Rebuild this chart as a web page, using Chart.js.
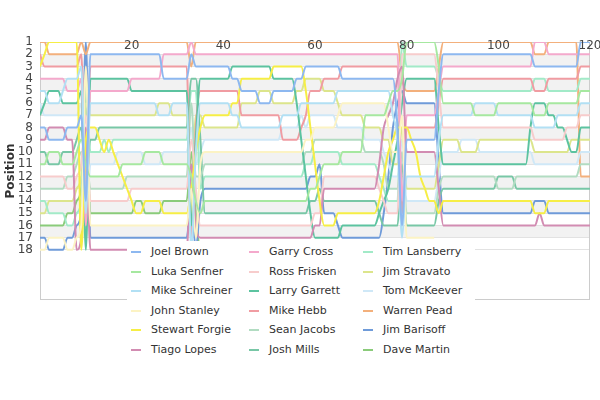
<!DOCTYPE html>
<html>
<head>
<meta charset="UTF-8">
<title>Lap chart</title>
<script src="https://cdn.jsdelivr.net/npm/chart.js@4.4.0/dist/chart.umd.min.js"></script>
<style>
  body { margin: 0; background: #fff; }
  #wrap { position: relative; width: 600px; height: 400px; }
  #legend { position: absolute; left: 127px; top: 241px; width: 348px; height: 127px; background: #fff; font: 11px "DejaVu Sans"; color: #333; }
  #legend .item { position: absolute; white-space: nowrap; line-height: 14px; }
  #legend .item i { display: inline-block; width: 10px; height: 2px; vertical-align: middle; margin-right: 10px; }
</style>
<script>
  const laps = [0,1,2,3,4,5,6,7,8,9,10,11,12,13,14,15,16,17,18,19,20,21,22,23,24,25,26,27,28,29,30,31,32,33,34,35,36,37,38,39,40,41,42,43,44,45,46,47,48,49,50,51,52,53,54,55,56,57,58,59,60,61,62,63,64,65,66,67,68,69,70,71,72,73,74,75,76,77,78,79,80,81,82,83,84,85,86,87,88,89,90,91,92,93,94,95,96,97,98,99,100,101,102,103,104,105,106,107,108,109,110,111,112,113,114,115,116,117,118,119,120];

  const drivers = ['Joel Brown', 'Luka Senfner', 'Mike Schreiner', 'John Stanley', 'Stewart Forgie', 'Tiago Lopes',
                   'Garry Cross', 'Ross Frisken', 'Larry Garrett', 'Mike Hebb', 'Sean Jacobs', 'Josh Mills',
                   'Tim Lansberry', 'Jim Stravato', 'Tom McKeever', 'Warren Pead', 'Jim Barisoff', 'Dave Martin'];

  const colours = ['#8db8f0', '#a6e8a0', '#b2e0f4', '#fcf3c4', '#f6ee45', '#d28cb2',
                   '#f4a9cc', '#f7cccc', '#5cc3a0', '#f09ca2', '#b2dcc2', '#78c7a6',
                   '#a2eac8', '#dce58c', '#cfe8f7', '#f3b07c', '#6f9bd9', '#8acb7a'];

  // position per lap, lap 0 .. 120 (null = out of the race)
  const joelBrown = [8,8,9,9,9,9,8,8,8,7, 14,2,2,2,2,2,2,2,2,2, 2,2,2,2,2,2,2,4,4,4, 4,4,4,2,3,3,3,3,3,3, 3,3,4,4,5,5,5,5,6,6, 6,5,5,5,5,5,4,4,3,3, 3,3,3,3,3,3,4,4,4,4, 4,4,4,4,4,4,4,4,8,16, 9,9,9,9,9,9,9,5,2,2, 2,2,2,2,2,2,2,2,2,2, 2,2,2,2,2,2,2,2,3,3, 3,3,3,3,3,3,3,3,1,1, 1];
  const lukaSenfner = [11,11,10,10,10,11,11,11,10,9, 11,12,12,12,12,12,12,12,11,11, 11,11,11,10,10,10,10,11,11,11, 11,11,11,12,14,15,14,14,14,14, 14,14,14,14,14,14,14,14,14,14, 14,14,14,14,14,14,14,14,14,13, 13,12,11,11,11,11,10,10,10,10, 10,7,7,7,7,7,6,5,5,4, 1,1,1,1,1,1,1,3,6,6, 6,6,6,6,6,7,7,7,7,7, 6,6,6,6,6,6,6,6,7,7, 7,6,6,6,6,6,6,6,5,5, 5];
  const mikeSchreiner = [5,5,6,6,6,5,4,4,4,3, 15,6,6,6,6,6,6,6,6,6, 6,6,6,6,6,6,7,7,7,6, 6,6,6,18,10,6,6,6,6,6, 6,6,7,7,8,8,8,8,8,8, 8,8,8,7,7,7,7,6,6,6, 6,6,6,6,6,5,5,5,5,5, 5,5,5,5,5,5,5,7,9,17, 12,12,12,12,12,12,12,9,7,7, 7,7,7,7,7,6,6,6,6,6, 7,7,7,7,7,7,7,7,8,8, 8,8,8,7,7,7,7,7,6,6, 6];
  const johnStanley = [18,18,17,17,17,17,18,18,17,16, 3,16,16,16,16,16,16,16,16,16, 16,16,16,16,16,16,16,16,16,16, 16,16,16,13,17,11,10,10,10,10, 10,10,10,10,10,10,10,10,10,10, 10,10,10,10,10,10,10,10,9,9, 8,8,8,8,8,7,6,6,6,6, 6,6,6,6,6,6,8,10,10,7, 17,17,17,17,17,17,17,null,null,null, null,null,null,null,null,null,null,null,null,null, null,null,null,null,null,null,null,null,null,null, null,null,null,null,null,null,null,null,null,null, null];
  const stewartForgie = [3,2,1,1,1,1,1,1,1,18, 9,8,8,9,10,9,10,11,12,13, 14,15,15,14,14,14,14,15,15,15, 15,15,15,13,10,8,7,7,7,7, 7,7,6,6,4,4,4,4,4,4, 4,3,3,3,3,3,3,3,5,8, 11,14,16,16,16,15,15,15,15,15, 15,15,15,15,14,12,10,9,8,8, 8,9,10,12,13,14,14,15,14,14, 14,14,14,14,14,14,14,14,14,14, 14,14,14,14,14,14,14,14,15,15, 15,14,14,14,14,14,14,14,14,14, 14];
  const tiagoLopes = [9,9,8,8,8,8,9,9,18,17, 8,18,18,18,18,18,18,18,18,18, 18,18,18,18,18,18,18,18,18,18, 18,18,18,11,16,17,17,17,17,17, 17,17,17,17,17,17,17,17,17,17, 17,17,17,17,17,17,17,17,17,17, 16,16,13,13,13,13,13,13,13,13, 13,13,13,13,11,8,7,6,4,3, 10,10,10,10,10,10,10,13,16,16, 16,16,16,16,16,16,16,16,16,16, 16,16,16,16,16,16,16,16,16,15, 16,16,16,16,16,16,16,16,16,16, 16];
  const garryCross = [4,4,4,4,4,4,5,5,5,4, 16,5,5,5,5,5,5,5,5,5, 4,4,4,4,4,4,4,2,2,2, 2,2,2,1,2,2,2,2,2,2, 2,2,2,2,2,2,2,2,2,2, 2,2,2,2,2,2,2,2,2,2, 2,2,2,2,2,2,2,2,2,2, 2,2,2,2,2,2,2,2,2,14, 7,7,7,7,7,7,7,5,3,3, 3,3,3,3,3,3,3,3,3,3, 3,3,3,3,3,3,3,3,1,1, 1,2,2,2,2,2,2,2,2,2, 2];
  const rossFrisken = [12,12,12,12,12,12,13,13,12,11, 7,14,14,14,14,14,14,14,14,14, 13,13,13,13,13,13,13,13,13,13, 13,13,13,9,13,16,16,16,16,16, 16,16,16,16,16,16,16,16,16,16, 16,16,16,16,16,16,16,16,16,16, 15,15,12,12,12,12,12,12,12,12, 12,12,12,12,13,14,15,15,15,2, 2,2,2,2,2,2,2,5,8,8, 8,8,8,8,8,8,8,8,8,8, 8,8,8,8,8,8,8,8,9,9, 9,9,9,9,9,8,8,8,7,7, 7];
  const larryGarrett = [7,6,5,5,5,6,6,6,6,5, 18,4,4,4,4,4,4,4,4,4, 5,5,5,5,5,5,5,5,5,5, 5,5,5,16,9,4,4,4,4,4, 4,4,3,3,3,3,3,3,3,3, 3,4,4,4,4,4,6,9,12,15, 17,17,17,17,17,17,16,16,16,16, 16,16,16,16,15,14,13,11,9,6, 4,4,4,4,4,4,4,8,11,11, 11,11,11,11,11,11,11,11,11,11, 11,11,11,11,11,11,11,8,6,6, 6,7,7,8,8,9,10,10,8,8, 8];
  const mikeHebb = [2,3,3,3,3,3,3,3,3,2, 13,3,3,3,3,3,3,3,3,3, 3,3,3,3,3,3,3,3,3,3, 3,3,3,17,8,5,5,5,5,5, 5,5,5,5,7,7,7,7,7,7, 7,7,7,9,9,9,9,8,7,5, 5,5,4,4,4,4,3,3,3,3, 3,3,3,3,3,3,3,3,3,15, 8,8,8,8,8,8,8,6,4,4, 4,4,4,4,4,4,4,4,4,4, 4,4,4,4,4,4,4,4,5,5, 5,4,4,4,4,4,4,4,3,3, 3];
  const seanJacobs = [13,13,13,13,13,13,12,12,11,10, 10,13,13,13,13,13,13,13,13,12, 12,12,12,12,12,12,12,12,12,12, 12,12,12,6,12,12,11,11,11,11, 11,11,11,11,11,11,11,11,11,11, 11,11,11,11,11,11,11,11,10,10, 9,9,9,9,9,9,9,9,9,9, 9,10,10,10,10,11,13,13,13,10, 15,15,15,15,15,15,15,13,12,12, 12,12,12,12,12,12,12,12,12,12, 13,13,13,13,12,12,12,12,12,12, 12,12,12,12,12,12,12,12,11,11, 11];
  const joshMills = [10,10,11,11,11,10,10,10,9,8, 12,9,9,8,8,8,8,8,8,8, 8,8,8,8,8,8,8,8,8,8, 8,8,8,4,4,9,15,15,15,15, 15,15,15,15,15,15,15,15,15,15, 15,15,15,15,15,15,15,15,15,14, 14,13,14,14,14,14,14,14,14,14, 14,14,14,14,15,16,16,16,16,11, 16,16,16,16,16,16,16,14,13,13, 13,13,13,13,13,13,13,13,13,13, 12,12,12,12,13,13,13,13,13,13, 13,13,13,13,13,13,13,13,13,13, 13];
  const timLansberry = [14,14,15,15,15,15,16,16,15,14, 4,10,10,10,9,10,9,9,9,9, 9,9,9,9,9,9,9,9,9,9, 9,9,9,5,5,13,12,12,12,12, 12,12,12,12,12,12,12,12,12,12, 12,12,12,12,12,12,12,12,11,11, 10,10,10,10,10,10,11,11,11,11, 11,11,11,11,12,13,14,14,14,1, 3,3,3,3,3,3,3,4,5,5, 5,5,5,5,5,5,5,5,5,5, 5,5,5,5,5,5,5,5,4,4, 4,5,5,5,5,5,5,5,4,4, 4];
  const jimStravato = [15,15,14,14,14,14,14,14,13,12, 6,7,7,7,7,7,7,7,7,7, 7,7,7,7,7,7,6,6,6,7, 7,7,7,15,7,7,8,8,8,8, 8,8,8,8,6,6,6,6,5,5, 5,6,6,6,6,6,5,5,4,4, 4,4,5,5,5,6,7,7,7,7, 7,8,8,8,8,9,9,11,11,8, 13,13,13,13,13,13,13,11,9,9, 9,9,10,10,10,10,9,9,9,9, 9,9,9,9,9,9,9,9,10,10, 10,10,10,10,10,10,9,9,9,9, 9];
  const tomMcKeever = [6,7,7,7,7,7,7,7,7,6, 17,11,11,11,11,11,11,10,10,10, 10,10,10,11,11,11,11,10,10,10, 10,10,10,8,11,10,9,9,9,9, 9,9,9,9,9,9,9,9,9,9, 9,9,9,8,8,8,8,7,8,7, 7,7,7,7,7,8,8,8,8,8, 8,9,9,9,9,10,11,12,12,9, 14,14,14,14,14,14,14,12,10,10, 10,10,9,9,9,9,10,10,10,10, 10,10,10,10,10,10,10,10,11,11, 11,11,11,11,11,11,11,11,10,10, 10];
  const warrenPead = [1,1,2,2,2,2,2,2,2,1, 2,1,1,1,1,1,1,1,1,1, 1,1,1,1,1,1,1,1,1,1, 1,1,1,3,1,1,1,1,1,1, 1,1,1,1,1,1,1,1,1,1, 1,1,1,1,1,1,1,1,1,1, 1,1,1,1,1,1,1,1,1,1, 1,1,1,1,1,1,1,1,1,4, 5,5,5,5,5,5,5,3,1,1, 1,1,1,1,1,1,1,1,1,1, 1,1,1,1,1,1,1,1,2,2, 2,1,1,1,1,1,1,1,12,12, 12];
  const jimBarisoff = [17,17,18,18,18,18,17,17,16,15, 1,17,17,17,17,17,17,17,17,17, 17,17,17,17,17,17,17,17,17,17, 17,17,17,14,18,14,13,13,13,13, 13,13,13,13,13,13,13,13,13,13, 13,13,13,13,13,13,13,13,13,12, 12,11,15,15,15,16,17,17,17,17, 17,17,17,17,17,15,12,8,6,5, 6,6,6,6,6,6,6,11,15,15, 15,15,15,15,15,15,15,15,15,15, 15,15,15,15,15,15,15,15,14,14, 14,15,15,15,15,15,15,15,15,15, 15];
  const daveMartin = [16,16,16,16,16,16,15,15,14,13, 5,15,15,15,15,15,15,15,15,15, 15,14,14,15,15,15,15,14,14,14, 14,14,14,10,15,18,18,18,18,18, 18,18,18,18,18,18,18,18,18,18, 18,18,18,18,18,18,18,18,18,18, 18,18,18,18,18,18,18,18,18,18, 18,18,18,18,18,18,18,18,18,18, null,null,null,null,null,null,null,null,null,null, null,null,null,null,null,null,null,null,null,null, null,null,null,null,null,null,null,null,null,null, null,null,null,null,null,null,null,null,null,null, null];

  const positions = [joelBrown, lukaSenfner, mikeSchreiner, johnStanley, stewartForgie, tiagoLopes,
                     garryCross, rossFrisken, larryGarrett, mikeHebb, seanJacobs, joshMills,
                     timLansberry, jimStravato, tomMcKeever, warrenPead, jimBarisoff, daveMartin];

  const lastPosition = 18;
</script>
</head>
<body>
<div id="wrap">
  <canvas id="lapChart" width="600" height="400"></canvas>
  <div id="legend"></div>
</div>
<script>
  Chart.defaults.font.family = '"DejaVu Sans", sans-serif';
  Chart.defaults.color = '#444';

  // alternate grey rows, a thin frame round the plot, lap numbers inside the top edge
  const lapBands = {
    id: 'lapBands',
    beforeDraw(chart) {
      const {ctx, chartArea: a, scales: {y}} = chart;
      ctx.save();
      ctx.fillStyle = '#f2f2f2';
      for (let p = 2; p < lastPosition; p += 2) {
        const t = y.getPixelForValue(p);
        const b = y.getPixelForValue(p + 1);
        ctx.fillRect(a.left, t, a.right - a.left, b - t);
      }
      ctx.restore();
    },
    beforeDatasetsDraw(chart) {
      const {ctx, chartArea: a} = chart;
      ctx.save();
      ctx.strokeStyle = '#cccccc';
      ctx.lineWidth = 1;
      ctx.strokeRect(a.left + 0.5, a.top + 0.5, a.right - a.left - 1, a.bottom - a.top - 1);
      ctx.restore();
    },
    afterDatasetsDraw(chart) {
      const {ctx, chartArea: a, scales: {x}} = chart;
      ctx.save();
      ctx.fillStyle = '#444';
      ctx.font = '12px "DejaVu Sans"';
      ctx.textAlign = 'center';
      ctx.textBaseline = 'middle';
      x.ticks.forEach(t => {
        if (t.value > 0) ctx.fillText(String(t.value), x.getPixelForValue(t.value), a.top + 4);
      });
      ctx.restore();
    }
  };

  const chart = new Chart('lapChart', {
    type: 'line',
    data: {
      datasets: drivers.map((name, i) => ({
        label: name,
        data: laps.map((lap, j) => ({x: lap, y: positions[i][j]})),
        borderColor: colours[i],
        backgroundColor: colours[i],
        borderWidth: 2,
        pointRadius: 0,
        cubicInterpolationMode: 'monotone',
        clip: 0,
        fill: false
      }))
    },
    options: {
      responsive: false,
      animation: false,
      layout: {padding: {left: 0, top: 42, right: 10, bottom: 100}},
      plugins: {legend: {display: false}, tooltip: {enabled: false}},
      scales: {
        x: {
          type: 'linear',
          position: 'top',
          min: 0,
          max: 120,
          grid: {display: false, drawTicks: false},
          border: {display: false},
          ticks: {stepSize: 20, display: false},
          afterFit: s => { s.height = 0; s.paddingLeft = 0; s.paddingRight = 0; }
        },
        y: {
          type: 'linear',
          reverse: true,
          min: 1,
          max: 22.1,
          grid: {
            drawTicks: false,
            color: c => (c.tick && c.tick.value <= lastPosition) ? '#e2e2e2' : 'rgba(0,0,0,0)'
          },
          border: {display: false},
          ticks: {
            stepSize: 1,
            autoSkip: false,
            padding: 7,
            font: {size: 12},
            callback: v => (Number.isInteger(v) && v <= lastPosition) ? v : ''
          },
          title: {display: true, text: 'Position', color: '#333', font: {size: 12, weight: 'bold'}},
          afterFit: s => { s.width = 40; }
        }
      }
    },
    plugins: [lapBands]
  });

  // legend laid over the lower part of the plot, three columns of six
  const legend = document.getElementById('legend');
  const colX = [4, 122, 236];
  chart.data.datasets.forEach((ds, i) => {
    const item = document.createElement('div');
    item.className = 'item';
    item.style.left = colX[Math.floor(i / 6)] + 'px';
    item.style.top = (4 + (i % 6) * 19.6) + 'px';
    item.innerHTML = '<i style="background:' + ds.borderColor + '"></i>' + ds.label;
    legend.appendChild(item);
  });
</script>
</body>
</html>
